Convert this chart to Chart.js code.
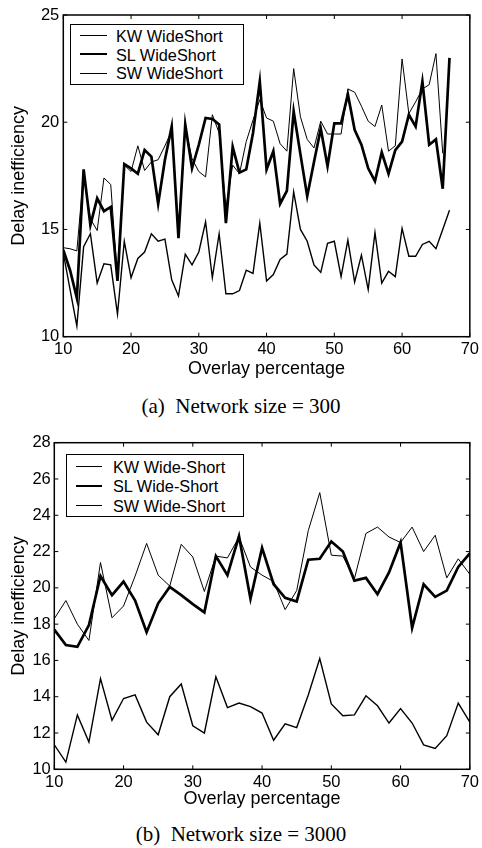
<!DOCTYPE html>
<html lang="en">
<head>
<meta charset="UTF-8">
<title>Delay inefficiency vs overlay percentage</title>
<script src="https://cdn.jsdelivr.net/npm/chart.js"></script>
<style>
  body {
    margin: 0;
    background: #fff;
    width: 482px;
    height: 848px;
    position: relative;
    overflow: hidden;
    font-family: "Liberation Sans", Arial, sans-serif;
    color: #000;
  }
  canvas { position: absolute; left: 0; }
  .legend {
    position: absolute;
    border: 1.3px solid #000;
    background: #fff;
    font-size: 16.3px;
  }
  .legend .row { position: absolute; left: 0; height: 18px; line-height: 18px; white-space: nowrap; }
  .legend .row i { position: absolute; top: 9px; border-top-style: solid; border-color: #000; }
  .legend .row span { position: absolute; top: 0; }
  .caption {
    position: absolute;
    left: 0;
    width: 482px;
    text-align: center;
    font-family: "Liberation Serif", "Times New Roman", serif;
    font-size: 21px;
    line-height: 22px;
  }
</style>
</head>
<body>
  <canvas id="chartA" width="482" height="380" style="top:0"></canvas>
  <div class="caption" style="top:395px">(a)&nbsp; Network size = 300</div>
  <canvas id="chartB" width="482" height="382" style="top:428px"></canvas>
  <div class="caption" style="top:823px">(b)&nbsp; Network size = 3000</div>

<script>
// (a) network size 300
const xA = [10, 11, 12, 13, 14, 15, 16, 17, 18, 19, 20, 21, 22, 23, 24, 25, 26, 27, 28, 29,
            30, 31, 32, 33, 34, 35, 36, 37, 38, 39, 40, 41, 42, 43, 44, 45, 46, 47, 48, 49,
            50, 51, 52, 53, 54, 55, 56, 57, 58, 59, 60, 61, 62, 63, 64, 65, 66, 67];
const kwA = [13.9, 12.2, 10.5, 14.2, 14.8, 12.5, 13.4, 13.35, 11.05, 14.45, 12.75, 13.65, 13.95, 14.8, 14.45, 14.55, 12.65, 11.9, 13.85, 13.35,
             13.95, 15.35, 12.75, 14.8, 12.0, 12.0, 12.15, 13.1, 12.95, 15.3, 12.6, 12.9, 13.6, 13.85, 16.75, 15.0, 14.45, 13.35, 13.0, 14.35,
             14.45, 12.8, 14.5, 12.55, 13.8, 12.2, 14.85, 12.5, 13.05, 12.8, 15.05, 13.75, 13.75, 14.3, 14.45, 14.1, 15.0, 15.9];
const slA = [14.05, 13.1, 11.8, 17.8, 15.2, 16.45, 15.85, 16.05, 12.6, 18.05, 17.85, 17.6, 18.7, 18.4, 16.2, 18.25, 19.8, 14.6, 19.9, 17.85,
             18.95, 20.2, 20.15, 19.9, 15.3, 18.85, 17.65, 17.8, 19.5, 21.9, 17.8, 18.65, 16.2, 16.8, 20.5, 18.5, 16.55, 18.15, 19.7, 17.95,
             19.95, 19.95, 21.3, 19.65, 18.95, 17.85, 17.25, 18.6, 17.6, 18.7, 19.1, 20.35, 19.8, 21.9, 18.95, 19.2, 16.9, 23.0];
const swA = [14.15, 14.1, 14.0, 17.6, 15.5, 14.95, 17.4, 17.1, 12.7, 18.0, 17.7, 18.9, 17.75, 18.15, 18.25, 18.9, 19.6, 14.9, 19.8, 18.3,
             17.7, 17.45, 20.35, 19.5, 16.0, 18.0, 17.6, 19.1, 20.1, 21.05, 20.2, 20.05, 19.0, 18.65, 22.5, 20.25, 19.2, 18.8, 20.05, 19.45,
             19.45, 19.45, 21.55, 21.4, 20.75, 20.05, 19.8, 20.8, 18.65, 18.9, 22.95, 20.4, 20.95, 21.55, 21.75, 23.2, 18.55, null];

// (b) network size 3000
const xB = [10, 11.67, 13.33, 15, 16.67, 18.33, 20, 21.67, 23.33, 25, 26.67, 28.33, 30, 31.67, 33.33, 35, 36.67, 38.33, 40,
            41.67, 43.33, 45, 46.67, 48.33, 50, 51.67, 53.33, 55, 56.67, 58.33, 60, 61.67, 63.33, 65, 66.67, 68.33, 70];
const kwB = [11.35, 10.4, 13.0, 11.5, 15.0, 12.7, 13.9, 14.1, 12.6, 11.9, 14.0, 14.7, 12.4, 12.0, 15.1, 13.4, 13.65, 13.45, 13.1,
             11.6, 12.5, 12.3, 14.1, 16.1, 13.6, 12.95, 13.0, 14.05, 13.5, 12.55, 13.35, 12.55, 11.35, 11.15, 11.85, 13.65, 12.6];
const slB = [17.7, 16.85, 16.75, 17.95, 20.65, 19.6, 20.35, 19.3, 17.55, 19.15, 20.05, 19.6, 19.1, 18.65, 21.75, 20.7, 22.85, 19.4, 22.2,
             20.2, 19.45, 19.25, 21.55, 21.6, 22.55, 22.0, 20.4, 20.55, 19.65, 20.85, 22.5, 17.8, 20.2, 19.5, 19.85, 21.15, 21.9];
const swB = [18.3, 19.3, 18.0, 17.1, 21.4, 18.35, 19.0, 20.65, 22.45, 20.7, 20.1, 22.4, 21.7, 19.8, 21.75, 21.65, 22.8, 21.15, 20.7,
             20.35, 18.8, 19.85, 23.15, 25.25, 21.8, 21.75, 20.5, 23.0, 23.35, 22.8, 22.5, 23.35, 22.0, 22.9, 20.55, 21.6, 20.75];

const labelsA = ['KW WideShort', 'SL WideShort', 'SW WideShort'];
const labelsB = ['KW Wide-Short', 'SL Wide-Short', 'SW Wide-Short'];

// box round the plot plus inward ticks on all four sides, matlab style
const frame = {
  id: 'frame',
  afterDatasetsDraw(chart) {
    const { ctx, chartArea: a, scales: { x, y } } = chart;
    ctx.save();
    ctx.strokeStyle = '#000';
    ctx.lineWidth = 1;
    ctx.beginPath();
    x.ticks.forEach(t => {
      const px = x.getPixelForValue(t.value);
      ctx.moveTo(px, a.bottom); ctx.lineTo(px, a.bottom - 4);
      ctx.moveTo(px, a.top); ctx.lineTo(px, a.top + 4);
    });
    y.ticks.forEach(t => {
      const py = y.getPixelForValue(t.value);
      ctx.moveTo(a.left, py); ctx.lineTo(a.left + 4, py);
      ctx.moveTo(a.right, py); ctx.lineTo(a.right - 4, py);
    });
    ctx.stroke();
    ctx.lineWidth = 1.5;
    ctx.strokeRect(a.left, a.top, a.right - a.left, a.bottom - a.top);
    ctx.restore();
  }
};

const tickFont = { family: '"Liberation Sans", Arial, sans-serif', size: 16.5 };
const titleFont = { family: '"Liberation Sans", Arial, sans-serif', size: 18 };

function series(xs, ys) {
  return xs.map((v, i) => ({ x: v, y: ys[i] }));
}

function makeChart(id, xs, kw, sl, sw, labels, g) {
  return new Chart(document.getElementById(id), {
    type: 'line',
    data: {
      datasets: [
        { label: labels[0], data: series(xs, kw), borderColor: '#000', borderWidth: 1.4 },
        { label: labels[1], data: series(xs, sl), borderColor: '#000', borderWidth: 2.7 },
        { label: labels[2], data: series(xs, sw), borderColor: '#000', borderWidth: 1.0 }
      ]
    },
    options: {
      responsive: false,
      animation: false,
      spanGaps: false,
      elements: { point: { radius: 0 }, line: { tension: 0 } },
      layout: { padding: { left: 0, top: g.top, right: g.right, bottom: 0 } },
      plugins: { legend: { display: false }, tooltip: { enabled: false } },
      scales: {
        x: {
          type: 'linear', min: 10, max: 70,
          grid: { display: false, drawTicks: false },
          border: { display: false },
          ticks: { stepSize: 10, color: '#000', font: tickFont, padding: 3, maxRotation: 0 },
          title: { display: true, text: 'Overlay percentage', color: '#000', font: titleFont, padding: { top: 0, bottom: 0 } },
          afterFit: s => { s.height = g.xh; }
        },
        y: {
          min: 10, max: g.ymax,
          grid: { display: false, drawTicks: false },
          border: { display: false },
          ticks: { stepSize: g.ystep, color: '#000', font: tickFont, padding: g.ypad },
          title: { display: true, text: 'Delay inefficiency', color: '#000', font: titleFont, padding: { top: 8, bottom: 0 } },
          afterFit: s => { s.width = g.yw; }
        }
      }
    },
    plugins: [frame]
  });
}

const chartA = makeChart('chartA', xA, kwA, slA, swA, labelsA,
  { top: 15, right: 10.7, xh: 43.3, yw: 63.3, ymax: 25, ystep: 5, ypad: 4 });
const chartB = makeChart('chartB', xB, kwB, slB, swB, labelsB,
  { top: 14.7, right: 10.7, xh: 40.7, yw: 54.3, ymax: 28, ystep: 2, ypad: 3.5 });

// legend box drawn as html over the plot
function legendBox(chart, box) {
  const el = document.createElement('div');
  el.className = 'legend';
  Object.assign(el.style, { left: box.left + 'px', top: box.top + 'px', width: box.w + 'px', height: box.h + 'px' });
  chart.data.datasets.forEach((ds, i) => {
    const row = document.createElement('div');
    row.className = 'row';
    row.style.top = (box.row0 + i * box.gap - 9) + 'px';
    const ln = document.createElement('i');
    Object.assign(ln.style, { left: box.lx + 'px', width: box.lw + 'px', borderTopWidth: ds.borderWidth + 'px',
      marginTop: (-ds.borderWidth / 2) + 'px' });
    const tx = document.createElement('span');
    tx.style.left = box.tx + 'px';
    tx.textContent = ds.label;
    row.appendChild(ln);
    row.appendChild(tx);
    el.appendChild(row);
  });
  document.body.appendChild(el);
}

legendBox(chartA, { left: 70, top: 24, w: 172, h: 59, row0: 11, gap: 18.5, lx: 9, lw: 27, tx: 45 });
legendBox(chartB, { left: 66, top: 454, w: 176, h: 61, row0: 12, gap: 19.3, lx: 9, lw: 26, tx: 46 });
</script>
</body>
</html>
